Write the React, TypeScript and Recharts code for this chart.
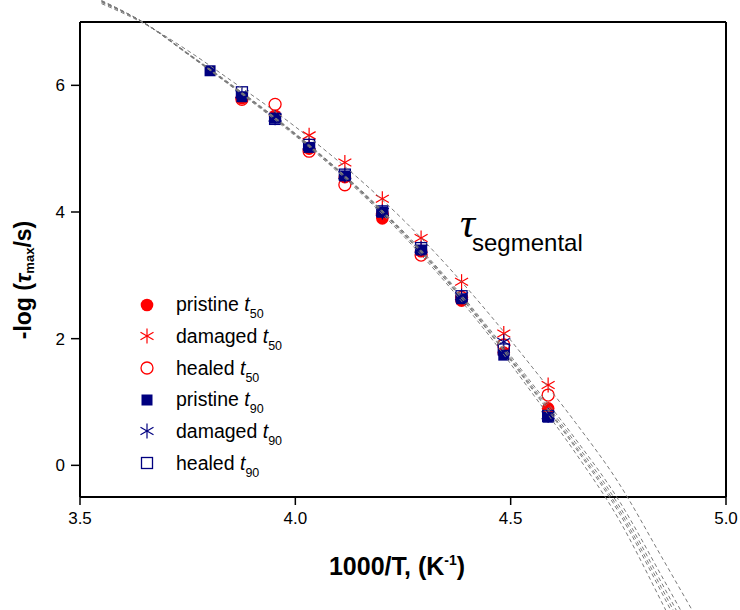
import { Legend, Line, LineChart, Scatter, ScatterChart, XAxis, YAxis } from "recharts";

// 1000/T for T = 263 ... 218 K
const tempX = [3.802, 3.876, 3.953, 4.032, 4.115, 4.202, 4.292, 4.386, 4.484, 4.587];

const pristineT50 = [null, 5.8, 5.52, 5.0, 4.55, 3.9, 3.38, 2.6, 1.78, 0.9];
const damagedT50 = [null, null, null, 5.21, 4.78, 4.21, 3.59, 2.9, 2.08, 1.27];
const healedT50 = [null, 5.78, 5.7, 4.96, 4.43, 3.97, 3.32, 2.65, 1.9, 1.11];
const pristineT90 = [6.23, 5.82, 5.48, 5.02, 4.57, 4.0, 3.4, 2.63, 1.74, 0.76];
const damagedT90 = [null, 5.86, 5.49, 5.05, 4.58, 4.0, 3.42, 2.67, 1.95, 0.79];
const healedT90 = [null, 5.89, 5.47, 5.06, 4.59, 4.01, 3.43, 2.67, 1.83, 0.78];

// fitted curves
const curveX = [3.55, 3.65, 3.75, 3.85, 3.95, 4.05, 4.15, 4.25, 4.35, 4.45, 4.55, 4.65, 4.75, 4.85, 4.92];
const fitPristineT50 = [7.33, 6.98, 6.5, 6.0, 5.49, 4.94, 4.33, 3.66, 2.92, 2.1, 1.2, 0.28, -0.73, -2.0, -2.93];
const fitDamagedT50 = [7.29, 6.97, 6.55, 6.08, 5.6, 5.08, 4.51, 3.88, 3.17, 2.39, 1.55, 0.68, -0.27, -1.44, -2.27];
const fitHealedT50 = [7.31, 6.98, 6.51, 6.02, 5.51, 4.96, 4.36, 3.7, 2.97, 2.16, 1.29, 0.42, -0.54, -1.74, -2.6];
const fitPristineT90 = [7.34, 6.98, 6.49, 5.99, 5.47, 4.92, 4.31, 3.63, 2.88, 2.05, 1.14, 0.2, -0.84, -2.15, -3.11];
const fitDamagedT90 = [7.32, 6.98, 6.5, 6.01, 5.5, 4.95, 4.35, 3.68, 2.95, 2.13, 1.25, 0.36, -0.62, -1.85, -2.74];
const fitHealedT90 = [7.33, 6.98, 6.5, 6.0, 5.49, 4.94, 4.34, 3.67, 2.93, 2.11, 1.22, 0.31, -0.68, -1.93, -2.84];

const xTicks = [3.5, 4.0, 4.5, 5.0];
const yTicks = [0, 2, 4, 6];

const W = 740;
const H = 610;
const BOX = { left: 80, right: 726, top: 22, bottom: 497 };
const X_MIN = 3.5;
const X_MAX = 5.0;
const Y_MIN = -0.5;
const Y_MAX = 7;

const FONT = "'Liberation Sans', Arial, sans-serif";
const RED = "#ff0000";
const NAVY = "#000080";

type Kind = "dot" | "star" | "ring" | "block" | "box";

const series = [
  { id: "pt50", label: "pristine", sub: "50", kind: "dot" as Kind, color: RED, values: pristineT50, fit: fitPristineT50 },
  { id: "dt50", label: "damaged", sub: "50", kind: "star" as Kind, color: RED, values: damagedT50, fit: fitDamagedT50 },
  { id: "ht50", label: "healed", sub: "50", kind: "ring" as Kind, color: RED, values: healedT50, fit: fitHealedT50 },
  { id: "pt90", label: "pristine", sub: "90", kind: "block" as Kind, color: NAVY, values: pristineT90, fit: fitPristineT90 },
  { id: "dt90", label: "damaged", sub: "90", kind: "star" as Kind, color: NAVY, values: damagedT90, fit: fitDamagedT90 },
  { id: "ht90", label: "healed", sub: "90", kind: "box" as Kind, color: NAVY, values: healedT90, fit: fitHealedT90 },
];

const Marker = ({ kind, color, cx, cy }: { kind: Kind; color: string; cx: number; cy: number }) => {
  if (kind === "dot") return <circle cx={cx} cy={cy} r={6.3} fill={color} />;
  if (kind === "ring") return <circle cx={cx} cy={cy} r={6} fill="none" stroke={color} strokeWidth={1.3} />;
  if (kind === "block") return <rect x={cx - 5.5} y={cy - 5.5} width={11} height={11} fill={color} />;
  if (kind === "box")
    return <rect x={cx - 5.5} y={cy - 5.5} width={11} height={11} fill="none" stroke={color} strokeWidth={1.3} />;
  const a = 7.5;
  const dx = a * 0.866;
  const dy = a * 0.5;
  return (
    <g stroke={color} strokeWidth={1.2}>
      <line x1={cx} y1={cy - a} x2={cx} y2={cy + a} />
      <line x1={cx - dx} y1={cy - dy} x2={cx + dx} y2={cy + dy} />
      <line x1={cx - dx} y1={cy + dy} x2={cx + dx} y2={cy - dy} />
    </g>
  );
};

const renderLegend = () => (
  <div style={{ fontFamily: FONT, fontSize: 19.5, color: "#000" }}>
    {series.map((s) => (
      <div key={s.id} style={{ display: "flex", alignItems: "center", height: 31.67 }}>
        <svg width={34} height={20} style={{ overflow: "visible" }}>
          <Marker kind={s.kind} color={s.color} cx={17} cy={10} />
        </svg>
        <span style={{ marginLeft: 12, whiteSpace: "nowrap" }}>
          {s.label} <i>t</i>
          <span style={{ fontSize: 12.5, position: "relative", top: 7 }}>{s.sub}</span>
        </span>
      </div>
    ))}
  </div>
);

const YTitle = () => (
  <text
    x={23}
    y={280}
    transform="rotate(-90, 23, 280)"
    textAnchor="middle"
    dominantBaseline="central"
    fontFamily={FONT}
    fontWeight="bold"
    fontSize={23}
    fill="#000"
  >
    -log (<tspan fontStyle="italic">τ</tspan>
    <tspan fontSize={13} dy={6}>max</tspan>
    <tspan dy={-6}>/s)</tspan>
  </text>
);

const XTitle = () => (
  <text x={397} y={575} textAnchor="middle" fontFamily={FONT} fontWeight="bold" fontSize={25} fill="#000">
    1000/T, (K<tspan fontSize={14} dy={-10}>-1</tspan>
    <tspan dy={10}>)</tspan>
  </text>
);

// the fit curves run past the frame, so they live in an overlay chart spanning the whole picture
const xPerPx = (X_MAX - X_MIN) / (BOX.right - BOX.left);
const yPerPx = (Y_MAX - Y_MIN) / (BOX.bottom - BOX.top);
const overlayX = [X_MIN - BOX.left * xPerPx, X_MAX + (W - BOX.right) * xPerPx];
const overlayY = [Y_MIN - (H - BOX.bottom) * yPerPx, Y_MAX + BOX.top * yPerPx];

const axisLine = { stroke: "#000", strokeWidth: 2 };
const tickLine = { stroke: "#000", strokeWidth: 1.5 };

export default function App() {
  return (
    <div style={{ position: "absolute", left: 0, top: 0, width: W, height: H, background: "#fff", fontFamily: FONT }}>
      <div style={{ position: "absolute", left: 0, top: 0 }}>
        <ScatterChart width={W} height={H} margin={{ top: BOX.top - 1, right: W - BOX.right - 1, bottom: 0, left: 0 }}>
          <XAxis
            type="number"
            dataKey="x"
            domain={[X_MIN, X_MAX]}
            ticks={xTicks}
            allowDataOverflow
            height={H - BOX.bottom}
            tickFormatter={(v: number) => v.toFixed(1)}
            tick={{ fill: "#000", fontSize: 17 }}
            tickSize={8}
            tickMargin={7}
            axisLine={axisLine}
            tickLine={tickLine}
            label={{ content: () => <XTitle /> }}
          />
          <XAxis
            xAxisId="top"
            orientation="top"
            type="number"
            domain={[X_MIN, X_MAX]}
            ticks={xTicks}
            allowDataOverflow
            height={1}
            tick={false}
            tickSize={-7}
            axisLine={axisLine}
            tickLine={tickLine}
          />
          <YAxis
            type="number"
            dataKey="y"
            domain={[Y_MIN, Y_MAX]}
            ticks={yTicks}
            allowDataOverflow
            width={BOX.left}
            tick={{ fill: "#000", fontSize: 17 }}
            tickSize={9}
            tickMargin={6}
            axisLine={axisLine}
            tickLine={tickLine}
            label={{ content: () => <YTitle /> }}
          />
          <YAxis
            yAxisId="right"
            orientation="right"
            type="number"
            domain={[Y_MIN, Y_MAX]}
            ticks={yTicks}
            allowDataOverflow
            width={1}
            tick={false}
            tickSize={-7}
            axisLine={axisLine}
            tickLine={tickLine}
          />
          {series.map((s) => (
            <Scatter
              key={s.id}
              name={s.id}
              data={tempX.map((x, i) => ({ x, y: s.values[i] })).filter((d) => d.y != null)}
              isAnimationActive={false}
              shape={(p: any) => <Marker kind={s.kind} color={s.color} cx={p.cx} cy={p.cy} />}
            />
          ))}
          <Legend
            layout="vertical"
            align="center"
            verticalAlign="middle"
            content={renderLegend}
            wrapperStyle={{ left: 130, top: 289, width: 240 }}
          />
          <text x={460} y={237} fill="#000">
            <tspan fontFamily="'Liberation Serif', serif" fontStyle="italic" fontSize={42}>
              τ
            </tspan>
            <tspan x={472} y={251} fontFamily={FONT} fontSize={24}>
              segmental
            </tspan>
          </text>
        </ScatterChart>
      </div>
      <div style={{ position: "absolute", left: 0, top: 0, pointerEvents: "none" }}>
        <LineChart width={W} height={H} margin={{ top: 0, right: 0, bottom: 0, left: 0 }}>
          <XAxis type="number" dataKey="x" domain={overlayX} allowDataOverflow hide />
          <YAxis type="number" domain={overlayY} allowDataOverflow hide />
          {series.map((s) => (
            <Line
              key={s.id}
              data={curveX.map((x, i) => ({ x, y: s.fit[i] }))}
              dataKey="y"
              type="monotone"
              stroke="#7a7a7a"
              strokeWidth={1}
              strokeDasharray="4 3"
              dot={false}
              isAnimationActive={false}
            />
          ))}
        </LineChart>
      </div>
    </div>
  );
}
